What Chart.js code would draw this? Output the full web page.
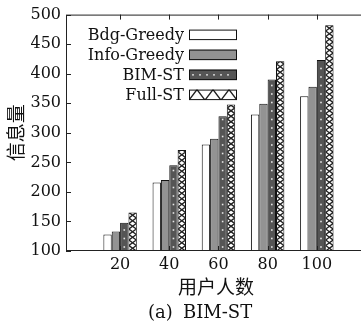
<!DOCTYPE html>
<html>
<head>
<meta charset="utf-8">
<script src="https://cdn.jsdelivr.net/npm/chart.js@4"></script>
<style>
  html, body { margin: 0; padding: 0; background: #fff; overflow: hidden; }
  #wrap { width: 370px; height: 326px; }
</style>
</head>
<body>
<div id="wrap"><canvas id="chart"></canvas></div>
<script>
// Data
const users = [20, 40, 60, 80, 100];
const bdgGreedy = [128, 216, 280, 331, 362];
const infoGreedy = [133, 220, 290, 349, 378];
const bimST = [148, 245, 328, 390, 423];
const fullST = [165, 271, 348, 421, 482];
const yTicks = [100, 150, 200, 250, 300, 350, 400, 450, 500];
const seriesNames = ["Bdg-Greedy", "Info-Greedy", "BIM-ST", "Full-ST"];

const SERIF = "'DejaVu Serif', serif";
const CJK = "'Noto Sans CJK SC', sans-serif";
const INK = "#111";

function toPoints(values) {
  return users.map((u, i) => ({ x: u, y: values[i] }));
}

// white dots on the dark bars, X hatch on the Full-ST bars
function drawDots(g, x0, y0, x1, y1, horizontal) {
  g.fillStyle = "#e6e6e6";
  if (horizontal) {
    const cy = (y0 + y1) / 2;
    for (let x = x0 + 4; x < x1 - 2; x += 7) g.fillRect(x - 0.8, cy - 0.8, 1.6, 1.6);
  } else {
    const cx = (x0 + x1) / 2;
    for (let y = y1 - 4; y > y0 + 2; y -= 8.5) g.fillRect(cx - 0.8, y - 0.8, 1.6, 1.6);
  }
}

function drawCross(g, l, r, top, bottom, h) {
  g.save();
  g.beginPath();
  g.rect(l, top, r - l, bottom - top);
  g.clip();
  g.strokeStyle = "#222";
  g.lineWidth = 1.4;
  [0, 1].forEach(start => {
    g.beginPath();
    let side = start;
    g.moveTo(side ? r : l, bottom);
    for (let y = bottom - h; y > top - h; y -= h) {
      side = 1 - side;
      g.lineTo(side ? r : l, y);
    }
    g.stroke();
  });
  g.restore();
}

const barDecor = {
  id: "barDecor",
  afterDatasetsDraw(chart) {
    const g = chart.ctx;
    const area = chart.chartArea;
    g.save();
    g.beginPath();
    g.rect(area.left, area.top, area.right - area.left, area.bottom - area.top);
    g.clip();
    chart.getDatasetMeta(2).data.forEach(bar => {
      drawDots(g, bar.x - bar.width / 2, bar.y, bar.x + bar.width / 2, area.bottom, false);
    });
    chart.getDatasetMeta(3).data.forEach(bar => {
      const l = bar.x - bar.width / 2 + 0.5;
      const r = bar.x + bar.width / 2 - 0.5;
      drawCross(g, l, r, bar.y + 0.5, area.bottom, 5.5);
    });
    g.restore();
  }
};

// frame, inward ticks, legend, caption
const frame = {
  id: "frame",
  afterDraw(chart) {
    const g = chart.ctx;
    const a = chart.chartArea;
    const xs = chart.scales.x, ys = chart.scales.y;
    g.save();
    g.strokeStyle = "#222";
    g.lineWidth = 1;
    g.strokeRect(a.left + 0.5, a.top + 0.5, a.right - a.left - 1, a.bottom - a.top - 1);
    g.beginPath();
    yTicks.forEach(v => {
      const y = Math.round(ys.getPixelForValue(v)) + 0.5;
      g.moveTo(a.left, y); g.lineTo(a.left + 5, y);
      g.moveTo(a.right - 5, y); g.lineTo(a.right, y);
    });
    users.forEach(u => {
      const x = Math.round(xs.getPixelForValue(u)) + 0.5;
      g.moveTo(x, a.top); g.lineTo(x, a.top + 5);
      g.moveTo(x, a.bottom); g.lineTo(x, a.bottom - 5);
    });
    g.stroke();

    // legend
    const boxL = a.left + 123, boxW = 48, boxH = 10.5;
    g.font = "16px " + SERIF;
    g.textAlign = "right";
    g.textBaseline = "middle";
    chart.data.datasets.forEach((ds, i) => {
      const top = a.top + 15 + i * 20;
      g.fillStyle = i === 3 ? "#fff" : ds.backgroundColor;
      g.fillRect(boxL, top, boxW, boxH);
      if (i === 2) drawDots(g, boxL, top, boxL + boxW, top + boxH, true);
      if (i === 3) {
        g.save();
        g.beginPath(); g.rect(boxL, top, boxW, boxH); g.clip();
        g.strokeStyle = "#222"; g.lineWidth = 1.4;
        g.beginPath();
        g.moveTo(boxL, top + boxH);
        for (let k = 1; k <= 6; k++) g.lineTo(boxL + k * 8, k % 2 ? top : top + boxH);
        g.stroke();
        g.restore();
      }
      g.strokeStyle = "#111";
      g.lineWidth = 1;
      g.strokeRect(boxL + 0.5, top + 0.5, boxW - 1, boxH - 1);
      g.fillStyle = INK;
      g.fillText(ds.label, boxL - 5, top + boxH / 2 + 1);
    });

    // sub-figure caption
    g.font = "18px " + SERIF;
    g.textAlign = "left";
    g.fillText("(a)", 148, 313);
    g.fillText("BIM-ST", 183, 313);
    g.restore();
  }
};

new Chart(document.getElementById("chart"), {
  type: "bar",
  data: {
    datasets: [
      { label: seriesNames[0], data: toPoints(bdgGreedy), backgroundColor: "#ffffff" },
      { label: seriesNames[1], data: toPoints(infoGreedy), backgroundColor: "#939393" },
      { label: seriesNames[2], data: toPoints(bimST), backgroundColor: "#555555" },
      { label: seriesNames[3], data: toPoints(fullST), backgroundColor: "#ffffff" }
    ]
  },
  options: {
    responsive: true,
    maintainAspectRatio: false,
    animation: false,
    layout: { padding: { top: 12, right: 4, left: 0, bottom: 0 } },
    datasets: {
      bar: {
        borderColor: "#111",
        borderWidth: 1,
        barPercentage: 1,
        categoryPercentage: 0.68
      }
    },
    plugins: {
      legend: { display: false },
      tooltip: { enabled: false }
    },
    scales: {
      x: {
        type: "linear",
        min: -2,
        max: 120,
        offset: false,
        afterBuildTicks: s => { s.ticks = users.map(v => ({ value: v })); },
        afterFit: s => { s.height = 75; },
        grid: { display: false, drawTicks: false, offset: false },
        border: { display: false },
        ticks: { font: { family: SERIF, size: 16 }, color: INK, padding: 4, maxRotation: 0, autoSkip: false },
        title: { display: true, text: "用户人数", font: { family: CJK, size: 19 }, color: INK, padding: { top: 0, bottom: 28 } }
      },
      y: {
        min: 100,
        max: 500,
        afterBuildTicks: s => { s.ticks = yTicks.map(v => ({ value: v })); },
        afterFit: s => { s.width = 66; },
        grid: { display: false, drawTicks: false },
        border: { display: false },
        ticks: { font: { family: SERIF, size: 16 }, color: INK, padding: 5 },
        title: { display: true, text: "信息量", font: { family: CJK, size: 19 }, color: INK, padding: { top: 4, bottom: 0 } }
      }
    }
  },
  plugins: [barDecor, frame]
});
</script>
</body>
</html>
